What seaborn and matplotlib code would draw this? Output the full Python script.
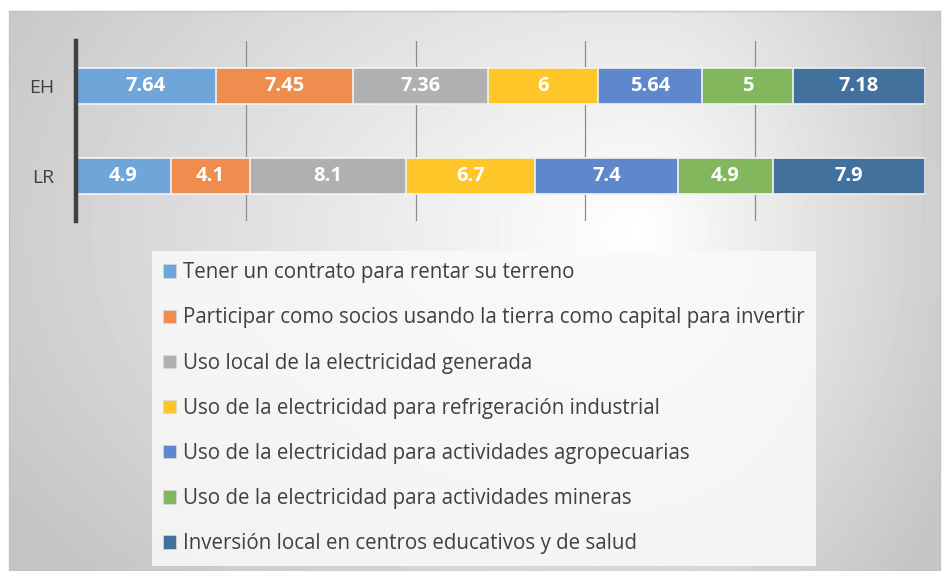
import numpy as np
import pandas as pd
import matplotlib
matplotlib.use("Agg")
import matplotlib.pyplot as plt
from matplotlib.patches import Patch
import seaborn as sns

# data
groups = ["EH", "LR"]
series = [
    "Tener un contrato para rentar su terreno",
    "Participar como socios usando la tierra como capital para invertir",
    "Uso local de la electricidad generada",
    "Uso de la electricidad para refrigeración industrial",
    "Uso de la electricidad para actividades agropecuarias",
    "Uso de la electricidad para actividades mineras",
    "Inversión local en centros educativos y de salud",
]
eh_values = [7.64, 7.45, 7.36, 6, 5.64, 5, 7.18]
lr_values = [4.9, 4.1, 8.1, 6.7, 7.4, 4.9, 7.9]
colors = ["#6FA5D8", "#EE8D4E", "#B0B0B0", "#FFC629", "#5F87CB", "#83B75E", "#42719E"]

df = pd.DataFrame({"EH": eh_values, "LR": lr_values}, index=series)
pct = df / df.sum() * 100
cum = pct.cumsum()

sns.set_theme(style="white")
plt.rcParams["font.family"] = ["Open Sans", "DejaVu Sans"]

fig = plt.figure(figsize=(9.42, 5.71), dpi=100)
fig.patch.set_facecolor("white")

# gradient background of the chart area
bg = fig.add_axes([9 / 942, 0, 931 / 942, 560 / 571])
bg.set_zorder(-5)
W, H = 931, 560
xx, yy = np.meshgrid(np.arange(W), np.arange(H))
cx, cy = 630, 220
dx = np.where(xx < cx, (xx - cx) / 620, (xx - cx) / 300)
dy = (yy - cy) / 420
r = np.sqrt(dx ** 2 + dy ** 2)
val = np.clip(1 - 0.19 * r, 0.77, 1)
bg.imshow(val, cmap="gray", vmin=0, vmax=1, aspect="auto", extent=(0, W, H, 0))
bg.set_xticks([])
bg.set_yticks([])
for s in bg.spines.values():
    s.set_color("#c4c4c4")
    s.set_linewidth(1)

ax = fig.add_axes([76 / 942, 1 - 221 / 571, 849 / 942, 180 / 571])
ax.set_facecolor("none")

# stacked 100% bars: draw cumulative totals from the last series backwards
for name, c in reversed(list(zip(series, colors))):
    sns.barplot(x=cum.loc[name].values, y=groups, orient="h", color=c,
                saturation=1, width=0.39, edgecolor="#f2f2f2", linewidth=1.2,
                ax=ax, zorder=2)

for g_i, g in enumerate(groups):
    for name in series:
        mid = cum.loc[name, g] - pct.loc[name, g] / 2
        ax.text(mid, g_i, f"{df.loc[name, g]:g}", ha="center", va="center",
                color="white", fontsize=14.5, fontweight="bold", zorder=4)

ax.set_xlim(0, 100)
ax.set_ylim(1.5, -0.5)
ax.set_xticks([0, 20, 40, 60, 80, 100])
ax.set_xticklabels([])
ax.tick_params(axis="x", length=0)
ax.tick_params(axis="y", length=0, labelsize=14, labelcolor="#404040", pad=16)
ax.xaxis.grid(True, color="#8c8c8c", linewidth=0.9)
ax.set_axisbelow(True)
ax.set_xlabel("")
ax.set_ylabel("")
for s in ["top", "right", "bottom"]:
    ax.spines[s].set_visible(False)
ax.spines["left"].set_color("#404040")
ax.spines["left"].set_linewidth(3.2)
ax.spines["left"].set_zorder(5)

handles = [Patch(facecolor=c, edgecolor="#d9d9d9", linewidth=0.5) for c in colors]
leg = fig.legend(handles, series, loc="upper left",
                 bbox_to_anchor=(152 / 942, 1 - 251 / 571), borderaxespad=0,
                 frameon=True, fontsize=14.8, handlelength=0.63, handleheight=0.63,
                 handletextpad=0.33, labelspacing=1.175, borderpad=0.55,
                 labelcolor="#404040")
leg.get_frame().set_facecolor("#fafafa")
leg.get_frame().set_edgecolor("none")
leg.get_frame().set_alpha(0.85)
leg.get_frame().set_boxstyle("square", pad=0)

fig.savefig("out.png", dpi=100)
